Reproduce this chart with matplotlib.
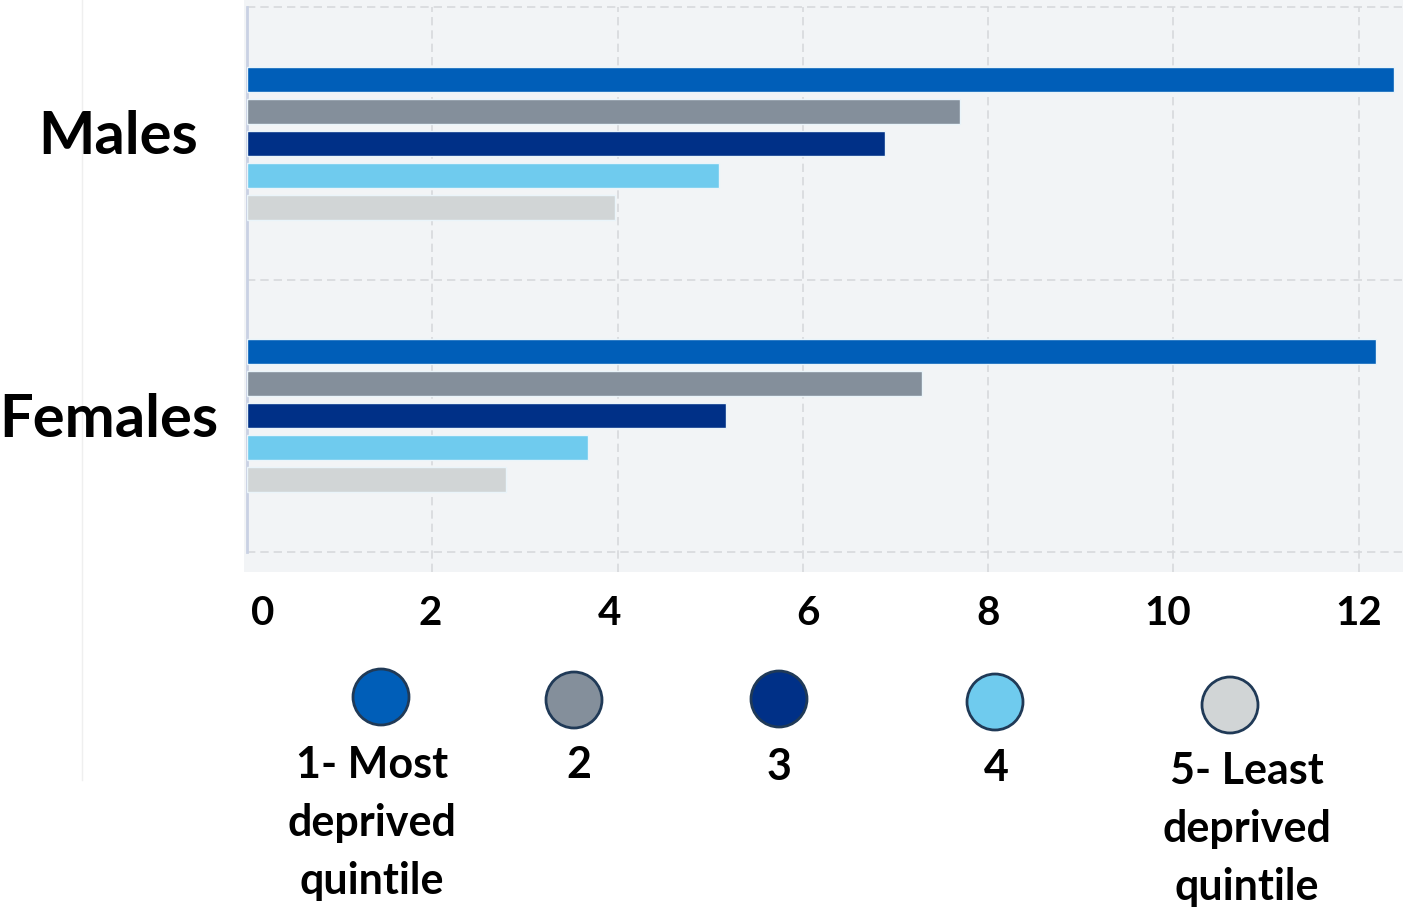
import matplotlib.pyplot as plt
from matplotlib.patches import Rectangle, Circle
from matplotlib.lines import Line2D
import matplotlib.transforms as mtransforms

W, H = 1403, 907

groups = ['Males', 'Females']
quintiles = ['1- Most\ndeprived\nquintile', '2', '3', '4', '5- Least\ndeprived\nquintile']
colors = ['#005eb8', '#848f9b', '#003087', '#6fcbee', '#d1d5d6']
males = [12.38, 7.70, 6.89, 5.10, 3.97]
females = [12.19, 7.29, 5.17, 3.68, 2.80]
xticks = [0, 2, 4, 6, 8, 10, 12]

plt.rcParams['font.family'] = ['Lato', 'DejaVu Sans']
WEIGHT = 'bold'


def fx(px):
    return px / W


def fy(py):
    # pixel row measured from the top -> figure fraction
    return 1 - py / H


fig = plt.figure(figsize=(W / 100, H / 100), dpi=100)
fig.patch.set_facecolor('white')

# panel background behind the plot
fig.add_artist(Rectangle((fx(244), fy(572)), fx(1403 - 244), 572 / H,
                         transform=fig.transFigure, facecolor='#f2f4f6',
                         edgecolor='none', zorder=0))
# faint separator line on the far left
fig.add_artist(Line2D([fx(82), fx(82)], [fy(0), fy(780)], transform=fig.transFigure,
                      color='#efefef', lw=1, zorder=0))

ax = fig.add_axes([fx(247), fy(552), fx(1403 - 247), (552 - 7) / H])
ax.set_facecolor('none')

step = 0.1174
height = 0.092
for i, (m, f) in enumerate(zip(males, females)):
    off = (i - 2) * step
    ax.barh([0 + off, 1 + off], [m, f], height=height, color=colors[i],
            edgecolor='#eaf4fa', linewidth=1, zorder=3)

ax.set_xlim(0, 12.48)
ax.set_ylim(1.5, -0.5)

# dashed grid
for y in [-0.5, 0.5, 1.5]:
    ax.axhline(y, color='#d7d9dc', lw=1.2, ls=(0, (5, 3)), zorder=1, clip_on=False)
for x in xticks[1:]:
    ax.vlines(x, -0.037, 1, transform=ax.get_xaxis_transform(), color='#d7d9dc',
              lw=1.2, ls=(0, (5, 3)), zorder=1, clip_on=False)

for s in ['top', 'right', 'bottom']:
    ax.spines[s].set_visible(False)
ax.spines['left'].set_color('#c9d1e3')
ax.spines['left'].set_linewidth(2)

ax.set_yticks([])
ax.set_xticks(xticks)
ax.set_xticklabels([str(t) for t in xticks], fontsize=29, fontweight=WEIGHT)
ax.tick_params(axis='x', length=0, pad=31)
# nudge a few labels sideways
shifts = [0.16, -0.02, -0.08, 0.05, 0, -0.06, 0]
for lab, dx in zip(ax.get_xticklabels(), shifts):
    lab.set_transform(lab.get_transform() +
                      mtransforms.ScaledTranslation(dx, 0, fig.dpi_scale_trans))

# group labels
group_pos = [(118, 137), (109, 420)]
for name, (gx, gy) in zip(groups, group_pos):
    fig.text(fx(gx), fy(gy), name, fontsize=43, fontweight=WEIGHT,
             ha='center', va='center')

# legend: circles with labels beneath
circle_pos = [(381, 697), (574, 700), (779, 699), (995, 702), (1230, 705)]
label_pos = [(372, 766), (579, 766), (779, 768), (996, 769), (1247, 772)]
for c, (cx, cy), (lx, ly), lab in zip(colors, circle_pos, label_pos, quintiles):
    fig.add_artist(Circle((cx / 100, (H - cy) / 100), 0.28,
                          transform=fig.dpi_scale_trans, facecolor=c,
                          edgecolor='#203a57', lw=2, zorder=3))
    fig.text(fx(lx), fy(ly - 21), lab, fontsize=31, fontweight=WEIGHT,
             ha='center', va='top', linespacing=1.55)

fig.savefig('out.png', dpi=100)
